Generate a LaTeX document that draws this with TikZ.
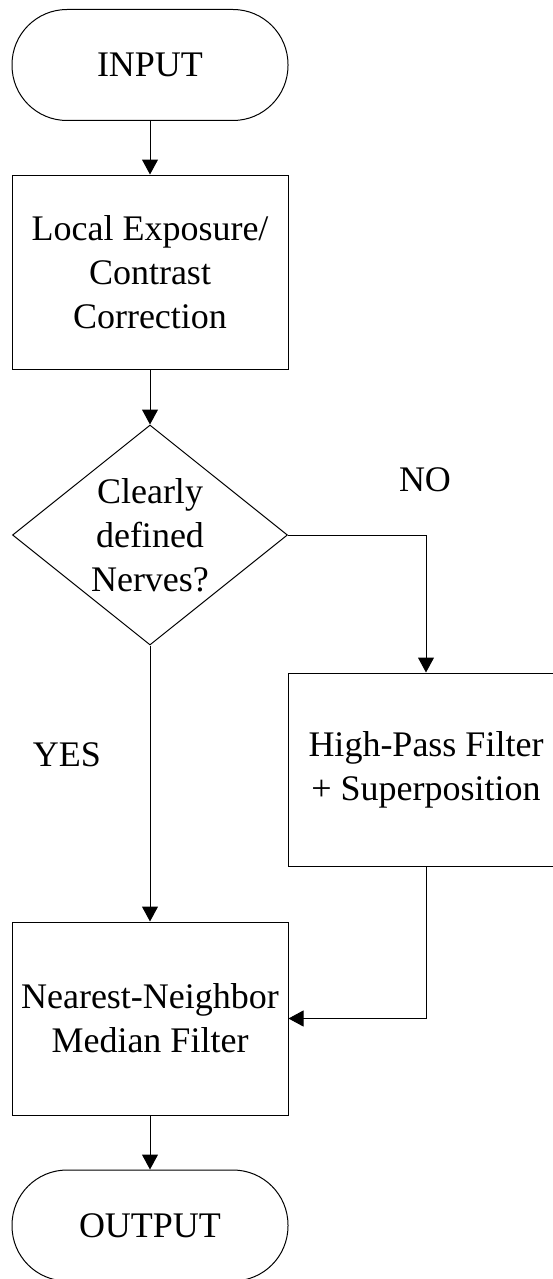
\documentclass[tikz,border=0pt]{standalone}
\usepackage{fontspec}
\setmainfont{Liberation Serif}
\usetikzlibrary{shapes.geometric,arrows.meta}
\begin{document}
\begin{tikzpicture}[x=1pt,y=-1pt,
  every node/.style={font=\fontsize{36}{44}\selectfont, align=center},
  terminal/.style={draw, line width=1pt, rectangle, rounded corners=55pt, minimum width=276pt, minimum height=111pt, inner sep=0pt},
  procbox/.style={draw, line width=1pt, rectangle, minimum width=276pt, minimum height=194pt, inner sep=0pt},
  decision/.style={draw, line width=1pt, diamond, minimum width=275pt, minimum height=220pt, inner sep=0pt},
  arr/.style={draw, line width=1pt, -{Triangle[length=15pt,width=16pt]}}
]
\useasboundingbox (0,0) rectangle (553,1279);
\node[terminal] (input) at (150,65) {INPUT};
\node[procbox] (local) at (150,272) {Local Exposure/\\Contrast\\Correction};
\node[decision] (dec) at (150,535) {};
\node (dectext) at (150,535) {Clearly\\defined\\Nerves?};
\node[procbox, minimum height=193pt] (hp) at (426,769.5) {High-Pass Filter\\+ Superposition};
\node[procbox, minimum height=193pt] (nn) at (150,1018.5) {Nearest-Neighbor\\Median Filter};
\node[terminal] (output) at (150,1225.5) {OUTPUT};
\node (yes) at (67,755) {YES};
\node (no) at (425,480) {NO};
\draw[arr] (input.south) -- (local.north);
\draw[arr] (local.south) -- (dec.north);
\draw[arr] (dec.east) -| (hp.north);
\draw[arr] (dec.south) -- (nn.north);
\draw[arr] (hp.south) |- (nn.east);
\draw[arr] (nn.south) -- (output.north);
\end{tikzpicture}
\end{document}
